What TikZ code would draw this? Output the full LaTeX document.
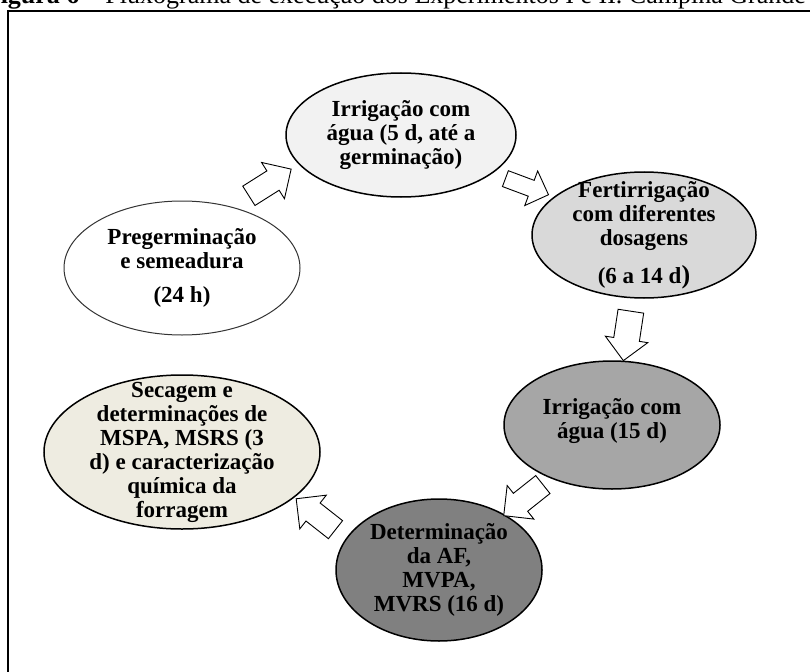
\documentclass[tikz,border=0pt]{standalone}
\usepackage{fontspec}
\setmainfont{Liberation Serif}
\usepackage{tikz}
\usetikzlibrary{shapes,arrows}
\definecolor{grayA}{HTML}{F2F2F2}
\definecolor{grayB}{HTML}{D9D9D9}
\definecolor{grayC}{HTML}{A6A6A6}
\definecolor{grayD}{HTML}{808080}
\definecolor{beige}{HTML}{EEECE1}
\tikzstyle{stage} = [ellipse, draw, line width=1.5pt, inner sep=0pt]
\tikzstyle{txt} = [align=center, inner sep=0pt, font=\bfseries\fontsize{23}{24}\selectfont]
\tikzstyle{bigarrow} = [single arrow, draw, fill=white, line width=0.9pt, minimum height=50pt, inner xsep=0pt, inner ysep=10pt, single arrow head extend=10pt, sloped, allow upside down]

\begin{document}
\begin{tikzpicture}[x=1pt, y=-1pt]
    \useasboundingbox (0,0) rectangle (810,671);
    \clip (0,0) rectangle (810,671);

    % titulo e moldura
    \node [anchor=base east, inner sep=0pt, font=\fontsize{26}{28}\selectfont] (titulo) at (806,4) {\textbf{Figura 6} – Fluxograma de execução dos Experimentos I e II. Campina Grande};
    \draw [line width=2pt] (8,11) rectangle (830,700);

    % etapas
    \node [stage, fill=white, draw=black!80, line width=1pt, minimum width=236pt, minimum height=134pt] (preg) at (182,268) {};
    \node [stage, fill=grayA, minimum width=230pt, minimum height=124pt] (irr1) at (401,135) {};
    \node [stage, fill=grayB, minimum width=224pt, minimum height=126pt] (fert) at (644,235) {};
    \node [stage, fill=grayC, minimum width=216pt, minimum height=128pt] (irr2) at (612,425) {};
    \node [stage, fill=grayD, minimum width=206pt, minimum height=142pt] (det) at (439,570) {};
    \node [stage, fill=beige, minimum width=276pt, minimum height=154pt] (sec) at (182,452) {};

    \node [txt] (preg_t) at (preg) {Pregerminação\\e semeadura\\[10pt](24 h)};
    \node [txt] (irr1_t) at (irr1) {Irrigação com\\água (5 d, até a\\germinação)};
    \node [txt] (fert_t) at (fert) {Fertirrigação\\com diferentes\\dosagens\\[14pt](6 a 14 d{\fontsize{26}{24}\selectfont)}};
    \node [txt] (irr2_t) at ([yshift=4pt]irr2) {Irrigação com\\água (15 d)};
    \node [txt] (det_t) at (det) {Determinação\\da AF,\\MVPA,\\MVRS (16 d)};
    \node [txt] (sec_t) at (sec) {Secagem e\\determinações de\\MSPA, MSRS (3\\d) e caracterização\\química da\\forragem};

    % setas
    \path (preg.51) -- node [bigarrow, inner ysep=11pt] (a1) {} (irr1.196);
    \path (irr1.337) -- node [bigarrow, inner ysep=8pt, minimum height=46pt] (a2) {} (fert.157);
    \path (fert.260) -- node [bigarrow, inner ysep=12.5pt, single arrow head extend=8.5pt] (a3) {} (irr2.80);
    \path (irr2.221) -- node [bigarrow, inner ysep=11pt] (a4) {} (det.40);
    \path (det.161) -- node [bigarrow, inner ysep=11pt] (a5) {} (sec.338);
\end{tikzpicture}
\end{document}
